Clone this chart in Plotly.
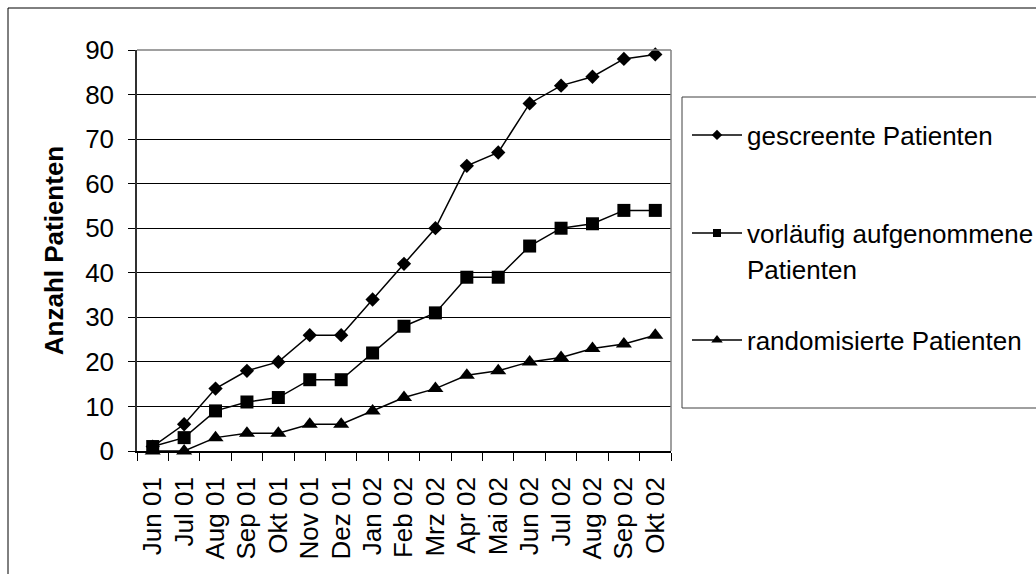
import plotly.graph_objects as go

months = ["Jun 01", "Jul 01", "Aug 01", "Sep 01", "Okt 01", "Nov 01", "Dez 01",
          "Jan 02", "Feb 02", "Mrz 02", "Apr 02", "Mai 02", "Jun 02", "Jul 02",
          "Aug 02", "Sep 02", "Okt 02"]
gescreente = [1, 6, 14, 18, 20, 26, 26, 34, 42, 50, 64, 67, 78, 82, 84, 88, 89]
vorlaeufig = [1, 3, 9, 11, 12, 16, 16, 22, 28, 31, 39, 39, 46, 50, 51, 54, 54]
randomisiert = [0, 0, 3, 4, 4, 6, 6, 9, 12, 14, 17, 18, 20, 21, 23, 24, 26]
y_ticks = [0, 10, 20, 30, 40, 50, 60, 70, 80, 90]

names = ["gescreente Patienten", "vorläufig aufgenommene", "randomisierte Patienten"]
symbols = ["diamond", "square", "triangle-up"]
sizes = [11, 13, 14]
leg_sizes = [8, 8, 10]
series = [gescreente, vorlaeufig, randomisiert]
legends = ["legend", "legend2", "legend3"]

FONT = "Arial, Liberation Sans, sans-serif"
FS = 26
LFS = 26
W, H = 1036, 574
L, R, T, B = 137, 671, 50, 451
pw, ph = R - L, B - T

def px(x):
    return (x - L) / pw

def py(y):
    return (B - y) / ph

def cx(x):
    return x / W

def cy(y):
    return 1 - y / H

fig = go.Figure()
for nm, sym, sz, vals in zip(names, symbols, sizes, series):
    fig.add_trace(go.Scatter(
        x=months, y=vals, mode="lines+markers", showlegend=False,
        line=dict(color="black", width=1.5),
        marker=dict(symbol=sym, size=sz, color="black"),
        cliponaxis=False,
    ))
for nm, sym, lsz, lg in zip(names, symbols, leg_sizes, legends):
    fig.add_trace(go.Scatter(
        x=[None], y=[None], mode="lines+markers", name=nm, legend=lg,
        line=dict(color="black", width=1.5),
        marker=dict(symbol=sym, size=lsz, color="black"),
    ))

leg_common = dict(bgcolor="rgba(0,0,0,0)", borderwidth=0,
                  font=dict(family=FONT, size=LFS, color="black"),
                  itemwidth=50, xanchor="left", yanchor="middle",
                  xref="container", yref="container")
lx = cx(687)
fig.update_layout(
    legend=dict(x=lx, y=cy(135), **leg_common),
    legend2=dict(x=lx, y=cy(233), **leg_common),
    legend3=dict(x=lx, y=cy(340), **leg_common),
)

fig.add_annotation(x=px(745), y=py(270), xref="paper", yref="paper",
                   text="Patienten", showarrow=False, xanchor="left",
                   yanchor="middle", font=dict(family=FONT, size=LFS, color="black"))

shapes = [
    dict(type="rect", xref="paper", yref="paper", x0=px(8), y0=py(8), x1=px(1045), y1=py(590),
         line=dict(color="black", width=1), fillcolor="rgba(0,0,0,0)", layer="below"),
    dict(type="rect", xref="paper", yref="paper", x0=px(682), y0=py(408), x1=px(1045), y1=py(97),
         line=dict(color="#404040", width=1), fillcolor="rgba(0,0,0,0)", layer="below"),
    dict(type="line", xref="paper", yref="paper", x0=0, y0=1, x1=1, y1=1,
         line=dict(color="#808080", width=1.5), layer="above"),
    dict(type="line", xref="paper", yref="paper", x0=1, y0=0, x1=1, y1=1,
         line=dict(color="#808080", width=1.5), layer="above"),
]

fig.update_layout(
    width=W, height=H,
    margin=dict(l=L, r=W - R, t=T, b=H - B, pad=0),
    paper_bgcolor="white", plot_bgcolor="white",
    font=dict(family=FONT, size=FS, color="black"),
    shapes=shapes,
    xaxis=dict(
        type="category", categoryorder="array", categoryarray=months,
        range=[-0.5, len(months) - 0.5],
        tickmode="array", tickvals=months, ticktext=months,
        tickson="boundaries", ticks="outside", ticklen=8, tickwidth=1, tickcolor="black",
        tickangle=-90, showline=True, linecolor="black", linewidth=1.5,
        showgrid=False, zeroline=False, ticklabelstandoff=14,
        tickfont=dict(family=FONT, size=FS, color="black"),
    ),
    yaxis=dict(
        range=[0, 90], tickvals=y_ticks, ticks="outside", ticklen=7, tickwidth=1,
        tickcolor="black", showline=True, linecolor="#303030", linewidth=1.5,
        showgrid=True, gridcolor="black", gridwidth=1, zeroline=False,
        ticklabelstandoff=9,
        tickfont=dict(family=FONT, size=FS, color="black"),
        title=dict(text="<b>Anzahl Patienten</b>", standoff=14,
                   font=dict(family=FONT, size=FS, color="black")),
    ),
)

fig.write_html("out.html")
